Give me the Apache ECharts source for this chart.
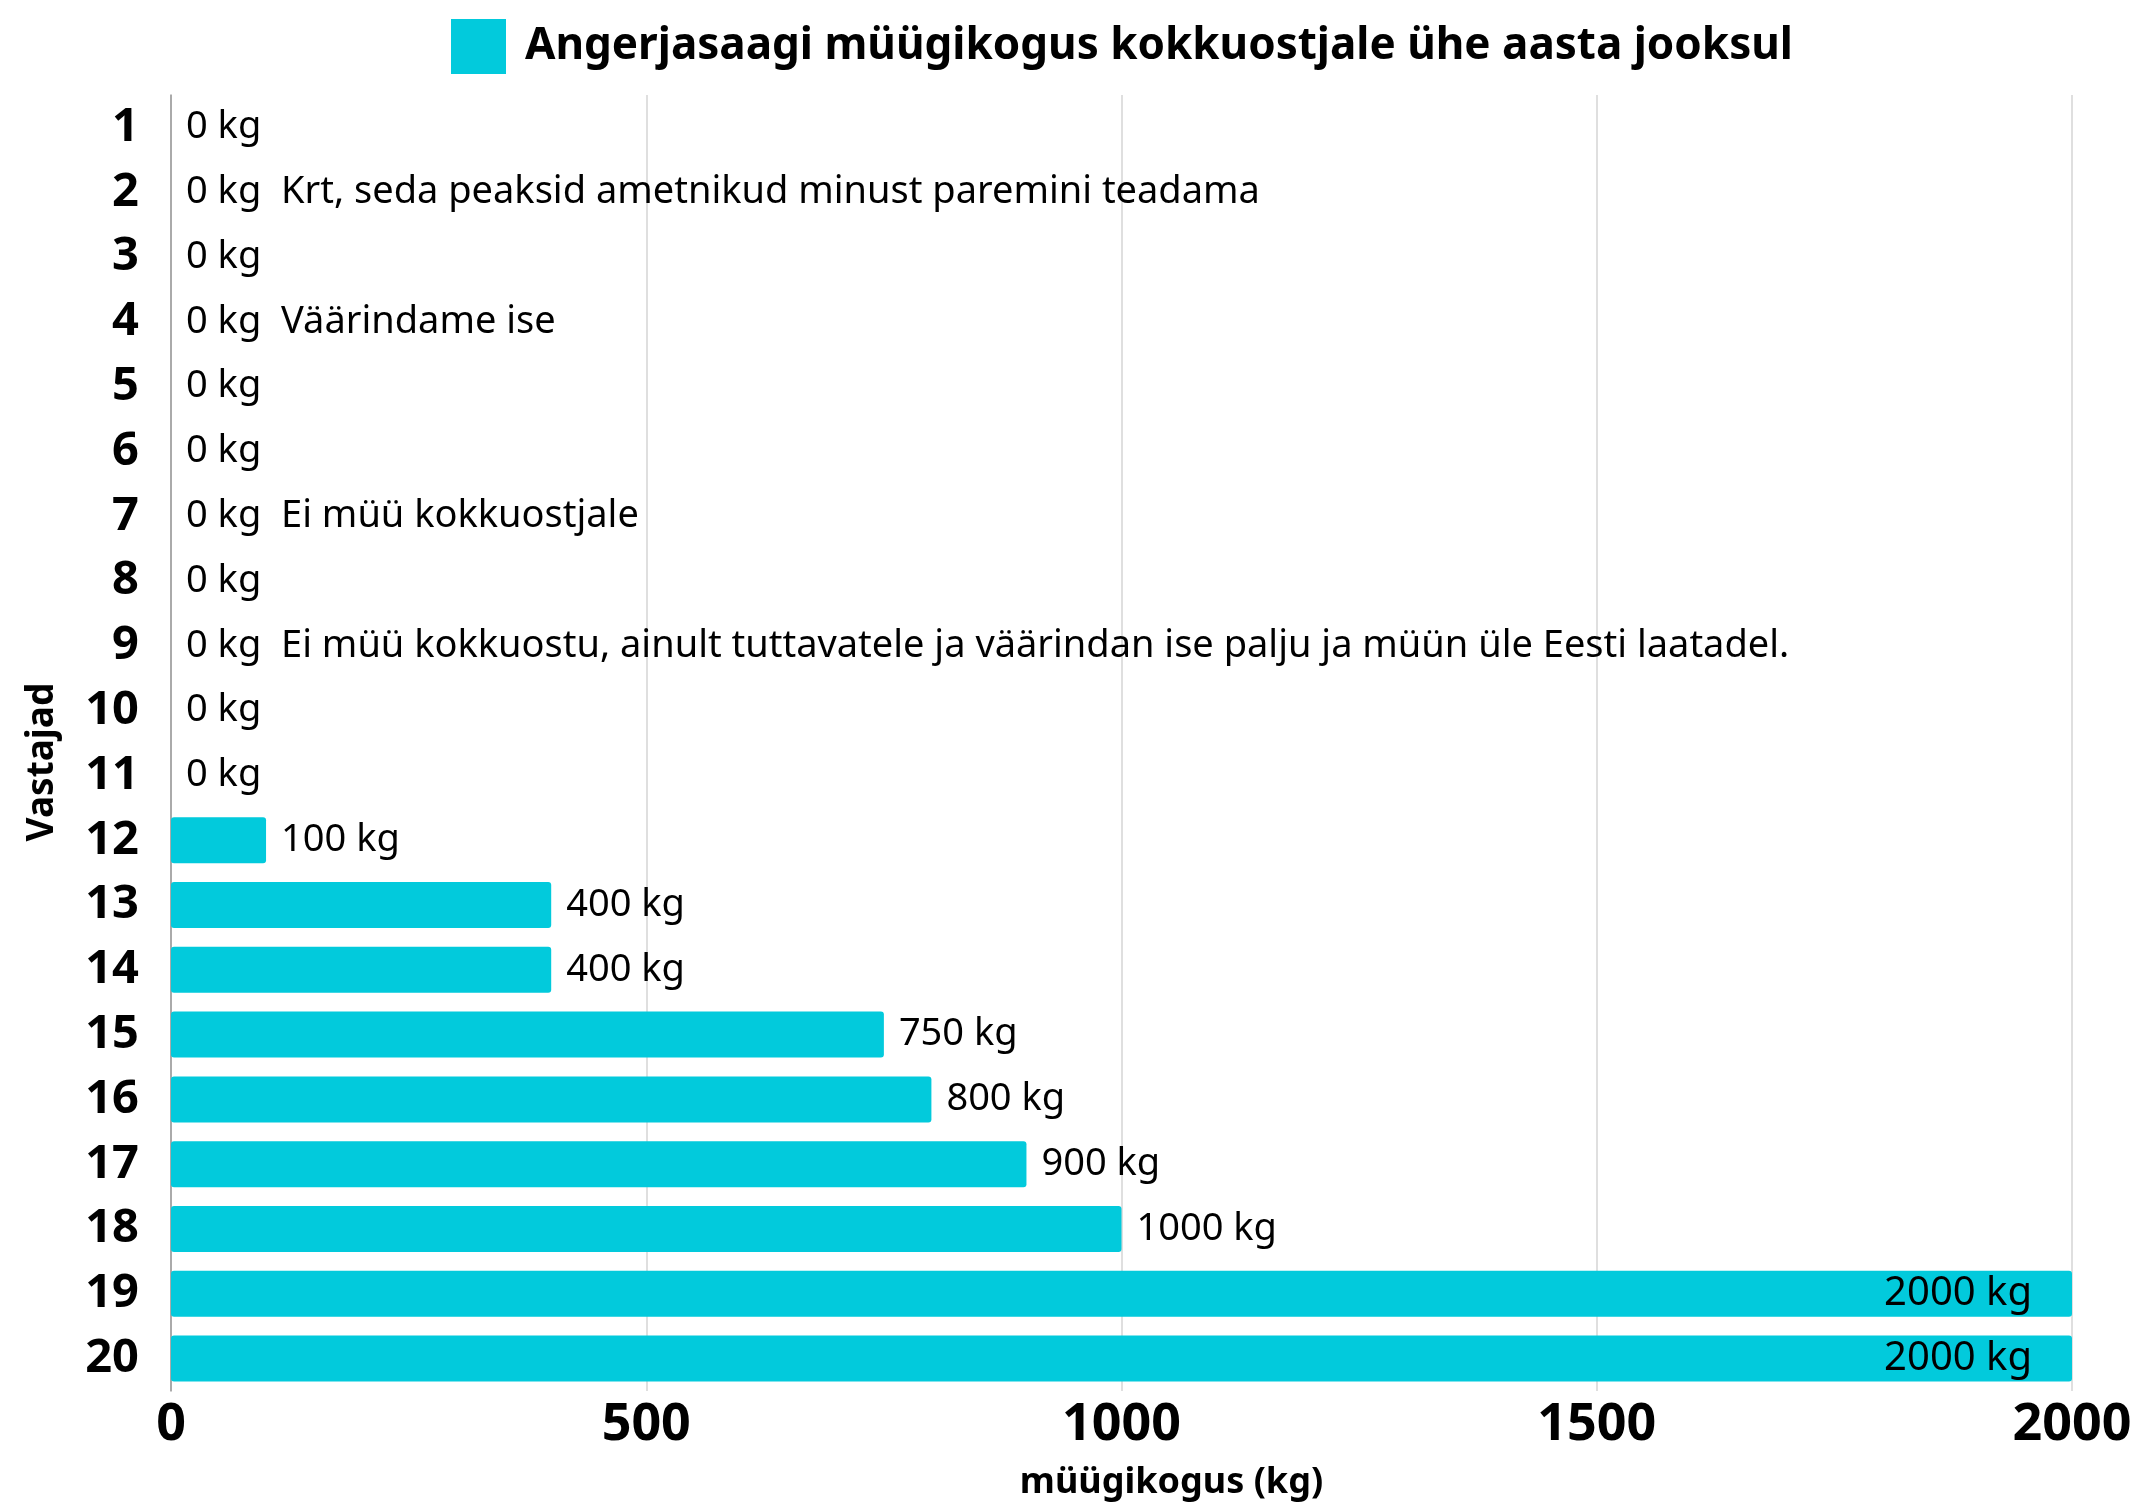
<!DOCTYPE html>
<html>
<head>
<meta charset="utf-8">
<script src="https://cdn.jsdelivr.net/npm/echarts@6/dist/echarts.min.js"></script>
<style>
  html, body { margin: 0; padding: 0; background: #fff; }
  #chart { width: 2143px; height: 1506px; }
</style>
</head>
<body>
<div id="chart"></div>
<script>
// andmed
const vastajad = ['1', '2', '3', '4', '5', '6', '7', '8', '9', '10',
  '11', '12', '13', '14', '15', '16', '17', '18', '19', '20']
const kogused = [0, 0, 0, 0, 0, 0, 0, 0, 0, 0, 0, 100, 400, 400, 750, 800, 900, 1000, 2000, 2000]
const kommentaarid = ['', 'Krt, seda peaksid ametnikud minust paremini teadama', '', 'Väärindame ise', '', '',
  'Ei müü kokkuostjale', '', 'Ei müü kokkuostu, ainult tuttavatele ja väärindan ise palju ja müün üle Eesti laatadel.',
  '', '', '', '', '', '', '', '', '', '', '']
const xTicks = [0, 500, 1000, 1500, 2000]

const font = 'Noto Sans'
const barColor = '#02CADC'

let myChart = echarts.init(document.getElementById('chart'))

// riba andmed: suurimad väärtused saavad sildi riba sisse
let barData = kogused.map(function (v, i) {
  let item = { value: v }
  if (v >= xTicks[xTicks.length - 1]) {
    item.label = { position: 'insideRight', distance: 40, fontSize: 40 }
  }
  return item
})

let option = {
  animation: false,
  textStyle: { fontFamily: font },
  legend: {
    top: 14,
    left: 446,
    icon: 'rect',
    itemWidth: 55,
    itemHeight: 55,
    itemGap: 16,
    textStyle: { fontFamily: font, fontSize: 44, fontWeight: 'bold', color: '#000', padding: [0, 0, 0, 14] },
    data: ['Angerjasaagi müügikogus kokkuostjale ühe aasta jooksul']
  },
  grid: {
    left: 171,
    right: 71,
    top: 95,
    bottom: 109,
    containLabel: false
  },
  xAxis: {
    type: 'value',
    min: 0,
    max: 2000,
    interval: 500,
    name: 'müügikogus (kg)',
    nameLocation: 'middle',
    nameGap: 74,
    nameTextStyle: { fontFamily: font, fontSize: 36, fontWeight: 'bold', color: '#000', padding: [0, 0, 0, 100] },
    axisLine: { show: false },
    axisTick: { show: false },
    axisLabel: {
      fontFamily: font, fontSize: 52, fontWeight: 'bold', color: '#000', margin: 8,
      formatter: function (v) { return String(v) }
    },
    splitLine: { show: true, lineStyle: { color: '#d4d4d4', width: 1.5 } }
  },
  yAxis: {
    type: 'category',
    inverse: true,
    data: vastajad,
    name: 'Vastajad',
    nameLocation: 'middle',
    nameRotate: 90,
    nameGap: 110,
    nameTextStyle: { fontFamily: font, fontSize: 37, fontWeight: 'bold', color: '#000', padding: [0, 38, 0, 0] },
    axisLine: { show: true, lineStyle: { color: '#999', width: 1.5 } },
    axisTick: { show: false },
    axisLabel: { fontFamily: font, fontSize: 47, fontWeight: 'bold', color: '#000', margin: 32 }
  },
  series: [
    {
      name: 'Angerjasaagi müügikogus kokkuostjale ühe aasta jooksul',
      type: 'bar',
      barWidth: 46,
      itemStyle: { color: barColor, borderRadius: 3 },
      label: {
        show: true,
        position: 'right',
        distance: 15,
        fontFamily: font,
        fontSize: 38,
        color: '#000',
        formatter: function (p) {
          let c = kommentaarid[p.dataIndex]
          return p.value + ' kg' + (c ? '  ' + c : '')
        }
      },
      data: barData
    }
  ]
}

myChart.setOption(option)
</script>
</body>
</html>
